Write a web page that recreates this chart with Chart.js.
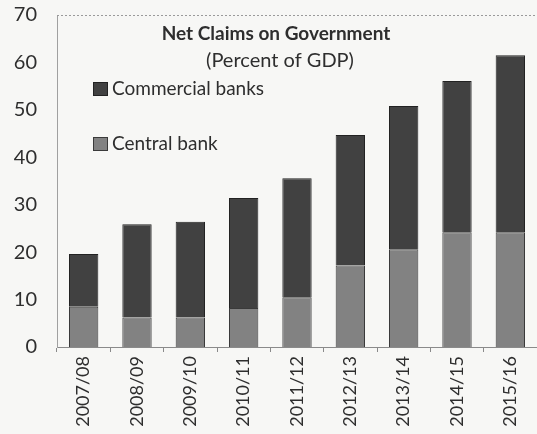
<!DOCTYPE html>
<html lang="en">
<head>
<meta charset="UTF-8">
<title>Net Claims on Government</title>
<script src="https://cdn.jsdelivr.net/npm/chart.js"></script>
<style>
    html, body { margin: 0; padding: 0; background: #f7f7f5; }
    #wrap { width: 537px; height: 434px; }
</style>
</head>
<body>
<div id="wrap"><canvas id="chart"></canvas></div>
<script>
    const years = ['2007/08', '2008/09', '2009/10', '2010/11', '2011/12', '2012/13', '2013/14', '2014/15', '2015/16'];
    // percent of GDP
    const centralBank = [8.5, 6.2, 6.2, 8.2, 10.5, 17.2, 20.6, 24.2, 24.2];
    const commercialBanks = [11.1, 19.7, 20.2, 23.2, 25.1, 27.5, 30.2, 31.9, 37.3];
    const yTicks = [0, 10, 20, 30, 40, 50, 60, 70];

    const FONT = 'Lato, "Liberation Sans", sans-serif';

    // title + legend drawn inside the plot area
    const insideText = {
        id: 'insideText',
        afterDraw(chart) {
            const ctx = chart.ctx;
            const a = chart.chartArea;
            ctx.save();

            // dotted frame on top
            ctx.strokeStyle = '#9a9a9a';
            ctx.setLineDash([2, 2]);
            ctx.lineWidth = 1;
            ctx.beginPath();
            ctx.moveTo(a.left, a.top + 0.5);
            ctx.lineTo(a.right, a.top + 0.5);
            ctx.stroke();
            ctx.setLineDash([]);

            ctx.fillStyle = '#2e2e2e';
            ctx.textAlign = 'center';
            ctx.textBaseline = 'middle';
            ctx.font = 'bold 19px ' + FONT;
            ctx.fillText('Net Claims on Government', 276, 34);
            ctx.font = '20px ' + FONT;
            ctx.fillText('(Percent of GDP)', 280, 61);

            // legend, top series first
            const items = chart.data.datasets.slice().reverse();
            ctx.textAlign = 'left';
            ctx.font = '19px ' + FONT;
            items.forEach((ds, i) => {
                const y = 89 + i * 55;
                ctx.fillStyle = ds.backgroundColor;
                ctx.fillRect(93, y - 7, 15, 14);
                ctx.strokeStyle = ds.borderColor;
                ctx.lineWidth = 1;
                ctx.strokeRect(93.5, y - 6.5, 14, 13);
                ctx.fillStyle = '#2e2e2e';
                ctx.fillText(ds.label, 112, y);
            });
            ctx.restore();
        }
    };

    new Chart(document.getElementById('chart'), {
        type: 'bar',
        data: {
            labels: years,
            datasets: [
                {
                    label: 'Central bank',
                    data: centralBank,
                    backgroundColor: '#828282',
                    borderColor: '#3a3a3a',
                    borderWidth: 1
                },
                {
                    label: 'Commercial banks',
                    data: commercialBanks,
                    backgroundColor: '#414141',
                    borderColor: '#222222',
                    borderWidth: 1
                }
            ]
        },
        options: {
            responsive: true,
            maintainAspectRatio: false,
            animation: false,
            layout: { padding: { top: 15, right: 0, left: 0, bottom: 0 } },
            datasets: { bar: { barPercentage: 0.55, categoryPercentage: 1 } },
            plugins: {
                legend: { display: false },
                title: { display: false },
                tooltip: { enabled: false }
            },
            scales: {
                x: {
                    stacked: true,
                    offset: true,
                    grid: {
                        display: true,
                        offset: true,
                        drawOnChartArea: false,
                        tickLength: 5,
                        color: '#8a8a8a'
                    },
                    border: { display: true, color: '#8a8a8a' },
                    ticks: {
                        maxRotation: 90,
                        minRotation: 90,
                        padding: 4,
                        color: '#2e2e2e',
                        font: { family: FONT, size: 18 }
                    },
                    afterFit(scale) { scale.height = 87; }
                },
                y: {
                    stacked: true,
                    min: 0,
                    max: 70,
                    afterBuildTicks(scale) {
                        scale.ticks = yTicks.map(v => ({ value: v }));
                    },
                    grid: { display: false },
                    border: { display: true, color: '#a0a0a0', dash: [2, 2] },
                    ticks: {
                        padding: 12,
                        color: '#2e2e2e',
                        font: { family: FONT, size: 20 }
                    },
                    afterFit(scale) {
                        scale.width = 57;
                        scale.paddingTop = 0;
                        scale.paddingBottom = 0;
                    }
                }
            }
        },
        plugins: [insideText]
    });
</script>
</body>
</html>
